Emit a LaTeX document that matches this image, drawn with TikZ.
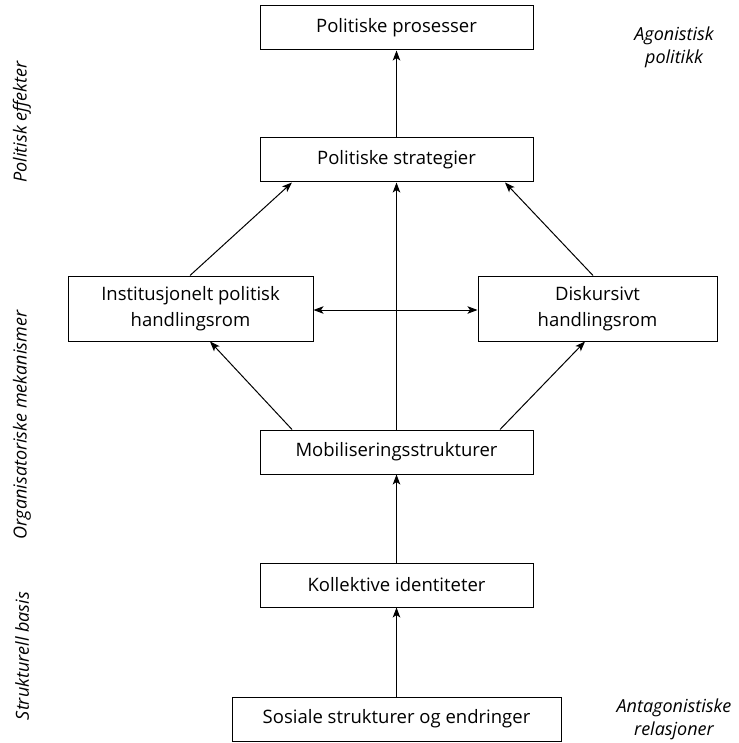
\documentclass[tikz,border=0pt]{standalone}
\usepackage{fontspec}
\setmainfont{Open Sans}
\usetikzlibrary{arrows.meta}
\begin{document}
\begin{tikzpicture}[x=1pt,y=-1pt,
  box/.style={draw,line width=1pt,inner sep=0pt,font=\fontsize{18.5}{26}\selectfont,align=center},
  side/.style={font=\fontsize{18}{23}\selectfont\itshape,align=center},
  arr/.style={line width=1pt,-{Stealth[length=10pt,width=7.5pt,inset=2.5pt]}},
  darr/.style={line width=1pt,{Stealth[length=10pt,width=7.5pt,inset=2.5pt]}-{Stealth[length=10pt,width=7.5pt,inset=2.5pt]}}]
\useasboundingbox (0,0) rectangle (738,743);
\node[box,minimum width=273pt,minimum height=44pt] (pp) at (396.5,28) {Politiske prosesser};
\node[box,minimum width=273pt,minimum height=44pt] (ps) at (396.5,160) {Politiske strategier};
\node[box,minimum width=245pt,minimum height=65pt] (ip) at (190.5,308.5) {Institusjonelt politisk\\handlingsrom};
\node[box,minimum width=239pt,minimum height=65pt] (dh) at (597.5,308.5) {Diskursivt\\handlingsrom};
\node[box,minimum width=273pt,minimum height=44pt] (ms) at (396.5,452) {Mobiliseringsstrukturer};
\node[box,minimum width=273pt,minimum height=44pt] (ki) at (396.5,585) {Kollektive identiteter};
\node[box,minimum width=329pt,minimum height=44pt] (ss) at (396.5,719) {Sosiale strukturer og endringer};
\node[side,rotate=90] (l1) at (22,122) {Politisk effekter};
\node[side,rotate=90] (l2) at (22,425) {Organisatoriske mekanismer};
\node[side,rotate=90] (l3) at (22,656) {Strukturell basis};
\node[side] (r1) at (674,47) {Agonistisk\\politikk};
\node[side] (r2) at (674,719) {Antagonistiske\\relasjoner};
\draw[arr] (ps.north) -- (pp.south);
\draw[arr] (ms.north) -- (ps.south);
\draw[arr] (ki.north) -- (ms.south);
\draw[arr] (ss.north) -- (ki.south);
\draw[arr] (ip.north -| 190,0) -- (ps.south -| 292,0);
\draw[arr] (dh.north -| 593,0) -- (ps.south -| 505,0);
\draw[arr] (ms.north -| 292,0) -- (ip.south -| 210,0);
\draw[arr] (ms.north -| 500,0) -- (dh.south -| 585,0);
\coordinate (dl) at ([yshift=-1.5pt]ip.east);
\coordinate (dr) at ([yshift=-1.5pt]dh.west);
\draw[darr] (dl) -- (dr);
\end{tikzpicture}
\end{document}
